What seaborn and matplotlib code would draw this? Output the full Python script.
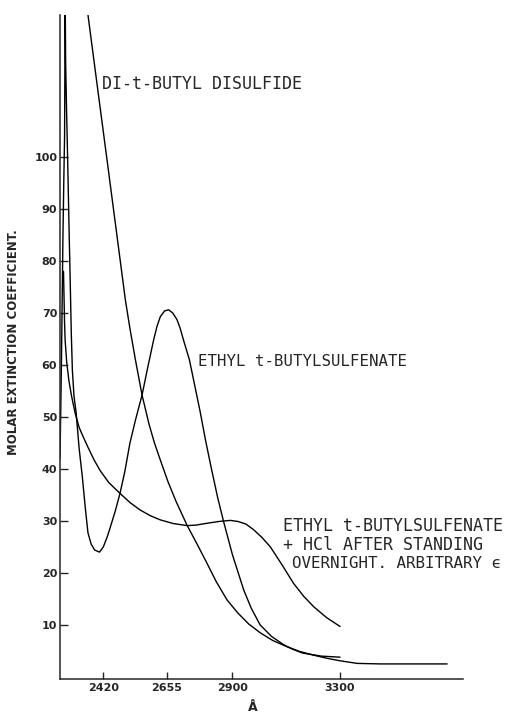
import matplotlib
matplotlib.use("Agg")
import matplotlib.pyplot as plt
import seaborn as sns

sns.set_style("ticks")
plt.rcParams['font.family'] = ['DejaVu Sans']

# ---- data (wavelength in Å, molar extinction coefficient) ----
disulfide_x = [2363, 2400, 2440, 2480, 2502, 2519, 2540, 2564, 2590, 2610, 2632, 2660, 2690, 2731, 2770,
               2805, 2840, 2880, 2920, 2960, 3003, 3050, 3103, 3150, 3200, 3250, 3300, 3364, 3450, 3550, 3698]
disulfide_y = [127.3, 112.7, 97, 81.2, 72.5, 67, 60.8, 54.2, 48.6, 45, 41.7, 37.6, 33.8, 29.2, 25.4,
               21.9, 18.3, 14.8, 12.3, 10.2, 8.5, 7.0, 5.8, 4.9, 4.2, 3.6, 3.1, 2.6, 2.5, 2.5, 2.5]

sulfenate_x = [2259, 2262, 2264, 2267, 2270, 2273, 2276, 2277, 2277.8, 2278.6, 2280, 2283, 2286, 2290, 2294,
               2297, 2301, 2305, 2311, 2319, 2330, 2342, 2353, 2363, 2375, 2388, 2406, 2420, 2435, 2446,
               2465, 2482, 2500, 2519, 2540, 2564, 2585, 2607, 2620, 2632, 2648, 2663, 2678, 2694, 2706,
               2718, 2740, 2760, 2780, 2800, 2820, 2845, 2867, 2900, 2942, 2970, 3003, 3045, 3090, 3125,
               3160, 3230, 3300]
sulfenate_y = [42, 52, 59, 72, 85, 95, 104, 115, 128, 128, 118, 110, 103, 93, 83,
               76, 66, 59, 54, 50.8, 44, 38.5, 32.5, 27.7, 25.5, 24.4, 24.0, 25, 27, 28.8,
               32, 35.3, 39.5, 45, 49.5, 54.2, 59.5, 64.8, 67.5, 69.3, 70.4, 70.6, 70, 68.7, 67,
               64.8, 61, 56, 51, 45.5, 40.5, 34.5, 29.9, 23.5, 16.7, 13.2, 10, 7.8, 6.2, 5.3,
               4.6, 4.0, 3.8]

hcl_x = [2272, 2274, 2276, 2278, 2284, 2292, 2302, 2315, 2330, 2345, 2360, 2385, 2408, 2440, 2482,
         2520, 2557, 2595, 2632, 2680, 2731, 2765, 2799, 2850, 2892, 2920, 2950, 2979, 3010, 3041,
         3085, 3127, 3165, 3202, 3250, 3300]
hcl_y = [78, 73, 68, 64.8, 60.5, 57, 54, 50.8, 48, 46.2, 44.5, 41.8, 39.7, 37.4, 35.3,
         33.5, 32.1, 31, 30.2, 29.5, 29.1, 29.2, 29.5, 29.9, 30.1, 29.9, 29.4, 28.3, 26.8, 25,
         21.5, 18, 15.5, 13.5, 11.4, 9.7]

x_ticks = [2420, 2655, 2900, 3300]
y_ticks = [10, 20, 30, 40, 50, 60, 70, 80, 90, 100]

label_disulfide = "DI-t-BUTYL DISULFIDE"
label_sulfenate = "ETHYL t-BUTYLSULFENATE"
label_hcl = ["ETHYL t-BUTYLSULFENATE", "+ HCl AFTER STANDING", "OVERNIGHT. ARBITRARY \u03f5"]

W, H = 513, 713
fig = plt.figure(figsize=(W / 100, H / 100), dpi=100)
ax = fig.add_axes([60 / W, 1 - 679 / H, 403 / W, 664 / H])

for xs, ys in [(disulfide_x, disulfide_y), (sulfenate_x, sulfenate_y), (hcl_x, hcl_y)]:
    sns.lineplot(x=xs, y=ys, sort=False, estimator=None, color='black', lw=1.0, ax=ax)

ax.set_xlim(2259, 3757)
ax.set_ylim(-0.4, 127.3)
ax.set_xticks(x_ticks)
ax.set_xticklabels([str(v) for v in x_ticks], fontsize=8, fontweight='bold')
ax.set_yticks(y_ticks)
ax.set_yticklabels([str(v) for v in y_ticks], fontsize=8, fontweight='bold')
ax.tick_params(axis='x', direction='in', length=5, width=1, pad=3)
ax.tick_params(axis='y', direction='in', length=6, width=1, pad=2)
sns.despine(ax=ax)
for s in ['left', 'bottom']:
    ax.spines[s].set_linewidth(1.1)

ax.set_xlabel("Å", fontsize=9, fontweight='bold')
ax.xaxis.set_label_coords((253 - 60) / 403, -(701 - 679) / 664)
ax.set_ylabel("MOLAR EXTINCTION COEFFICIENT.", fontsize=8.5, fontweight='bold')
ax.yaxis.set_label_coords((20 - 60) / 403, (679 - 342) / 664)

def ftext(px, py, s, size):
    fig.text(px / W, 1 - py / H, s, ha='left', va='center', fontsize=size,
             family=['DejaVu Sans Mono', 'DejaVu Sans'])

ftext(102, 84, label_disulfide, 12)
ftext(198, 361, label_sulfenate, 11.3)
ftext(283, 526, label_hcl[0], 12)
ftext(283, 545, label_hcl[1], 12)
ftext(292, 563, label_hcl[2], 11.4)

fig.savefig("out.png", dpi=100)
